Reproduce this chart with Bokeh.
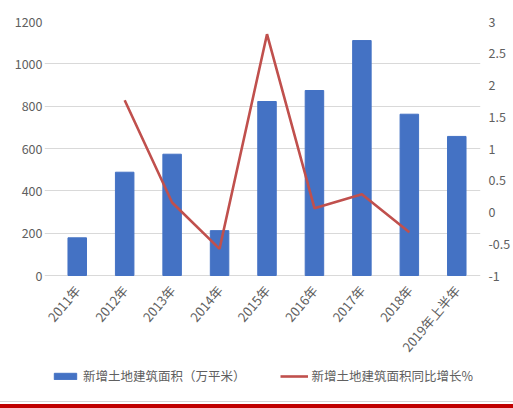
import math
from bokeh.plotting import figure
from bokeh.layouts import column
from bokeh.models import (ColumnDataSource, Range1d, LinearAxis, FixedTicker,
                          CustomJSTickFormatter, Legend, LegendItem, Div)
from bokeh.embed import file_html
from bokeh.resources import INLINE

categories = ["2011年", "2012年", "2013年", "2014年", "2015年", "2016年", "2017年", "2018年", "2019年上半年"]
area = [178, 488, 573, 212, 822, 874, 1110, 762, 657]
growth = [float("nan"), 1.76, 0.15, -0.58, 2.8, 0.06, 0.28, -0.32, float("nan")]
left_ticks = [0, 200, 400, 600, 800, 1000, 1200]
right_ticks = [-1, -0.5, 0, 0.5, 1, 1.5, 2, 2.5, 3]
bar_label = "新增土地建筑面积（万平米）"
line_label = "新增土地建筑面积同比增长%"

FONT = "Noto Sans CJK SC"
TXT = "#606060"
FS = "12.5px"

# layout geometry (pixels)
W, H = 513, 401
TOP, ZERO_Y = 21, 275           # pixel rows of the top gridline and of the zero line
AX_PX = ZERO_Y - TOP
below = H - ZERO_Y              # frame extends below zero to hold the labels and legend
l_max, r_min, r_max = 1200, -1, 3
l_lo = -below * l_max / AX_PX
r_lo = r_min - below * (r_max - r_min) / AX_PX
n = len(categories)
x_pos = [i + 0.5 for i in range(n)]   # category centres on a numeric scale
left_pad = 0.19                        # room on the left so the first rotated label is not clipped

src = ColumnDataSource(dict(x=x_pos, cat=categories, area=area, growth=growth))

p = figure(width=W, height=H, x_range=Range1d(-left_pad, n), y_range=Range1d(l_lo, l_max),
           output_backend="svg", toolbar_location=None,
           min_border_left=44, min_border_right=30, min_border_top=TOP, min_border_bottom=0)
p.extra_y_ranges = {"pct": Range1d(r_lo, r_max)}
p.outline_line_color = None
p.background_fill_color = "white"
p.border_fill_color = "white"

bars = p.vbar(x="x", top="area", width=0.39, source=src, color="#4472C4")
line = p.line(x="x", y="growth", source=src, y_range_name="pct", line_color="#C0504D", line_width=2.6)

ax = p.yaxis[0]
ax.ticker = FixedTicker(ticks=left_ticks)
ax.axis_line_color = None
ax.major_tick_line_color = None
ax.major_tick_out = 0
ax.minor_tick_out = 0
ax.minor_tick_line_color = None
ax.major_label_standoff = 2
ax.major_label_text_font = FONT
ax.major_label_text_font_size = FS
ax.major_label_text_color = TXT

rax = LinearAxis(y_range_name="pct", ticker=FixedTicker(ticks=right_ticks),
                 formatter=CustomJSTickFormatter(code="return tick.toString()"))
rax.axis_line_color = None
rax.major_tick_line_color = None
rax.major_tick_out = 0
rax.minor_tick_out = 0
rax.minor_tick_line_color = None
rax.major_label_standoff = 8
rax.major_label_text_font = FONT
rax.major_label_text_font_size = FS
rax.major_label_text_color = TXT
p.add_layout(rax, "right")

xa = p.xaxis[0]
xa.fixed_location = 0
xa.ticker = FixedTicker(ticks=x_pos)
xa.formatter = CustomJSTickFormatter(args=dict(labels=categories),
                                     code="return labels[Math.floor(tick)]")
xa.axis_line_color = None
xa.major_tick_line_color = None
xa.major_tick_out = 0
xa.minor_tick_out = 0
xa.minor_tick_line_color = None
xa.major_label_orientation = math.radians(50)
xa.major_label_standoff = 12
xa.major_label_text_font = FONT
xa.major_label_text_font_size = "13px"
xa.major_label_text_color = TXT

p.xgrid.grid_line_color = None
p.ygrid.grid_line_color = "#D9D9D9"
p.ygrid.grid_line_width = 1
p.ygrid.bounds = (0, n)

legend = Legend(items=[LegendItem(label=bar_label, renderers=[bars]),
                       LegendItem(label=line_label, renderers=[line])],
                orientation="horizontal", location=(7, 16), padding=0, margin=0,
                spacing=34, glyph_width=28, glyph_height=8, label_height=14, label_standoff=4,
                border_line_color=None, background_fill_alpha=0,
                label_text_font=FONT, label_text_font_size=FS, label_text_color=TXT)
p.add_layout(legend, "center")

footer = Div(text="", width=W, height=7, margin=0,
             styles={"background": "linear-gradient(to bottom, #D4D4D4 0px, #D4D4D4 1px, "
                                   "#FFFFFF 1px, #FFFFFF 3px, #C00000 3px, #C00000 7px)"})

layout = column(p, footer, spacing=0)
open("out.html", "w").write(file_html(layout, INLINE))
